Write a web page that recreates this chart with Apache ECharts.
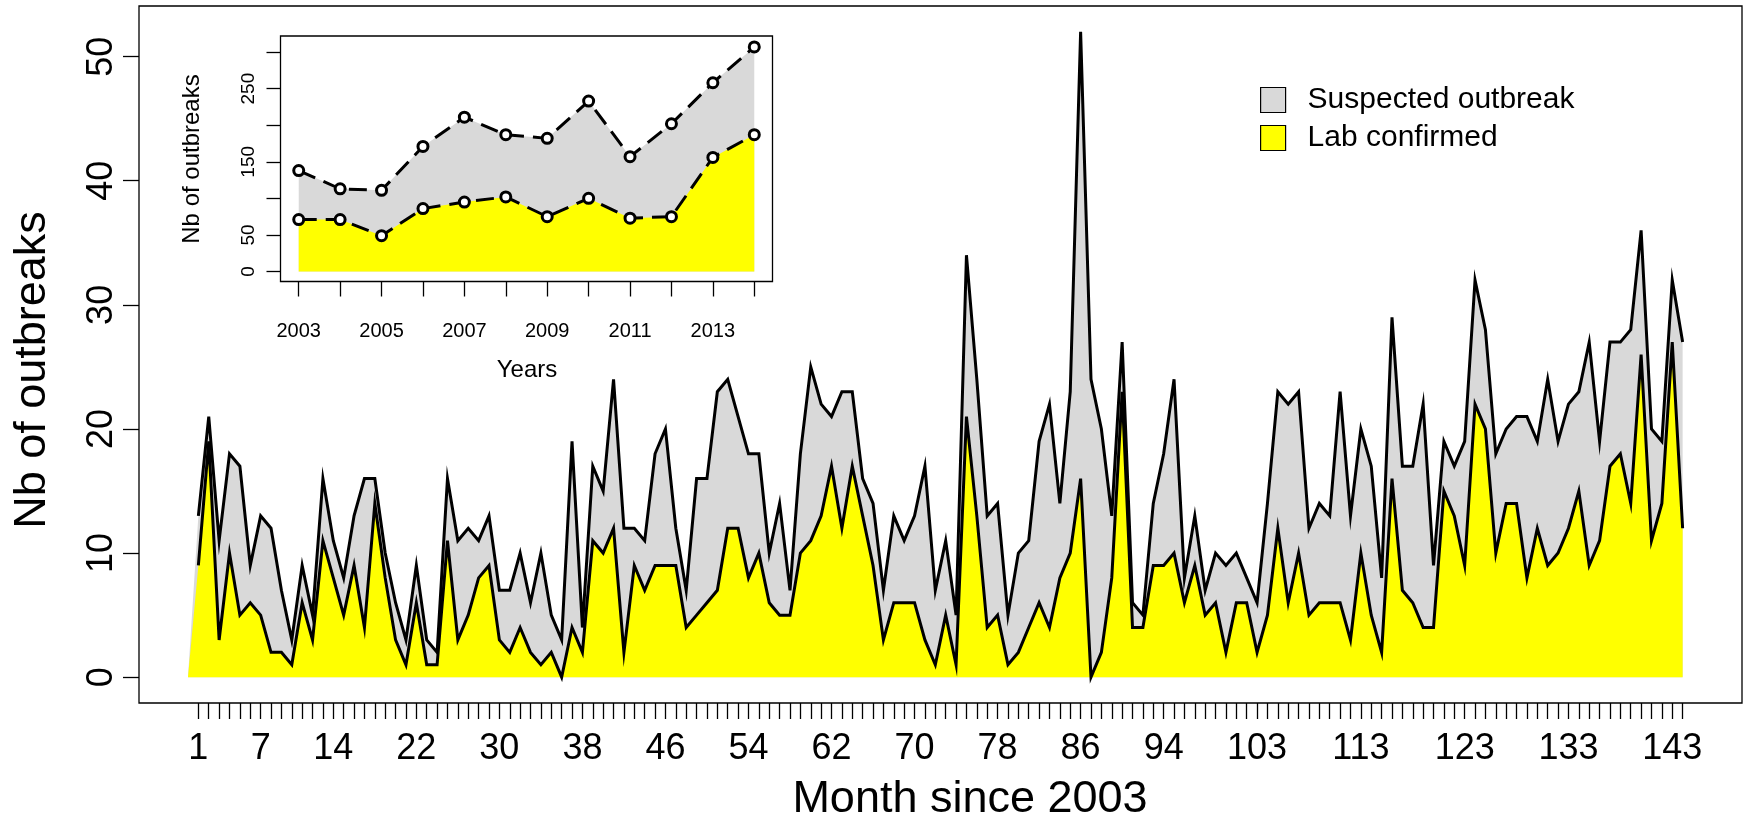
<!DOCTYPE html>
<html><head><meta charset="utf-8">
<script src="https://cdn.jsdelivr.net/npm/echarts@6/dist/echarts.min.js"></script>
<style>html,body{margin:0;padding:0;background:#fff}#c{width:1745px;height:825px}</style>
</head><body><div id="c"></div>
<script>
// ---- data ----
const suspected = [
  13,21,11,18,17,9,13,12,7,3,9,5,
  16,11,8,13,16,16,10,6,3,9,3,2,
  16,11,12,11,13,7,7,10,6,10,5,3,
  19,4,17,15,24,12,12,11,18,20,12,7,
  16,16,23,24,21,18,18,10,14,7,18,25,
  22,21,23,23,16,14,7,13,11,13,17,7,
  11,5,34,24,13,14,5,10,11,19,22,14,
  23,52,24,20,13,27,6,5,14,18,24,8,
  13,7,10,9,10,8,6,14,23,22,23,12,
  14,13,23,13,20,17,8,29,17,17,22,9,
  19,17,19,32,28,18,20,21,21,19,24,19,
  22,23,27,19,27,27,28,36,20,19,32,27
];
const confirmed = [
  9,19,3,10,5,6,5,2,2,1,6,3,
  11,8,5,9,4,14,8,3,1,6,1,1,
  11,3,5,8,9,3,2,4,2,1,2,0,
  4,2,11,10,12,2,9,7,9,9,9,4,
  5,6,7,12,12,8,10,6,5,5,10,11,
  13,17,12,17,13,9,3,6,6,6,3,1,
  5,1,21,13,4,5,1,2,4,6,4,8,
  10,16,0,2,8,23,4,4,9,9,10,6,
  9,5,6,2,6,6,2,5,12,6,10,5,
  6,6,6,3,10,5,2,16,7,6,4,4,
  15,13,9,22,20,10,14,14,8,12,9,10,
  12,15,9,11,17,18,14,26,11,14,27,12
];
const xTickLabels = [1,7,14,22,30,38,46,54,62,70,78,86,94,103,113,123,133,143];
const yTickLabels = [0,10,20,30,40,50];

const years = [2003,2004,2005,2006,2007,2008,2009,2010,2011,2012,2013,2014];
const yearSuspected = [138,113,111,171,211,187,182,233,157,202,258,307];
const yearConfirmed = [71,71,49,86,95,102,75,100,73,75,156,187];
const insetXLabels = [2003,2005,2007,2009,2011,2013];
const insetYTicks = [0,50,100,150,200,250,300];
const insetYLabels = [0,50,150,250];

// ---- build ----
const months = suspected.map((_, i) => i + 1);
const nM = months.length;
const poly = vals => [[0, 0]].concat(vals.map((v, i) => [months[i], v])).concat([[nM, 0]]);
const pts = vals => vals.map((v, i) => [months[i], v]);
const ypts = vals => vals.map((v, i) => [years[i], v]);
const FONT = '"Liberation Sans", Arial, Helvetica, sans-serif';
const fmt = v => String(v);

const chart = echarts.init(document.getElementById('c'), null, {renderer: 'canvas'});
chart.setOption({
  backgroundColor: '#fff',
  animation: false,
  textStyle: {fontFamily: FONT},
  grid: [
    {left: 139, top: 6, width: 1603, height: 697, show: true, borderColor: '#000', borderWidth: 1.3, backgroundColor: 'transparent'},
    {left: 280.5, top: 36, width: 492, height: 245.5, show: true, borderColor: '#000', borderWidth: 1.3, backgroundColor: 'transparent'}
  ],
  xAxis: [
    {gridIndex: 0, type: 'value', min: -4.72, max: 149.72,
     axisLine: {show: false, onZero: false},
     axisTick: {show: true, length: 16, customValues: months, lineStyle: {color: '#000', width: 1.3}},
     axisLabel: {customValues: xTickLabels, formatter: fmt, fontSize: 36, color: '#000', margin: 28, fontFamily: FONT},
     splitLine: {show: false}},
    {gridIndex: 1, type: 'value', min: 2002.56, max: 2014.44,
     axisLine: {show: false, onZero: false},
     axisTick: {show: true, length: 15, customValues: years, lineStyle: {color: '#000', width: 1.3}},
     axisLabel: {customValues: insetXLabels, formatter: fmt, fontSize: 20, color: '#000', margin: 40, fontFamily: FONT},
     splitLine: {show: false}}
  ],
  yAxis: [
    {gridIndex: 0, type: 'value', min: -2.08, max: 54.08,
     axisLine: {show: false, onZero: false},
     axisTick: {show: true, length: 16, customValues: yTickLabels, lineStyle: {color: '#000', width: 1.3}},
     axisLabel: {customValues: yTickLabels, formatter: fmt, rotate: 90, fontSize: 36, color: '#000', margin: 19, fontFamily: FONT},
     splitLine: {show: false}},
    {gridIndex: 1, type: 'value', min: -13.6, max: 321.9,
     axisLine: {show: false, onZero: false},
     axisTick: {show: true, length: 14, customValues: insetYTicks, lineStyle: {color: '#000', width: 1.3}},
     axisLabel: {customValues: insetYLabels, formatter: fmt, rotate: 90, fontSize: 19, color: '#000', margin: 22, fontFamily: FONT},
     splitLine: {show: false}}
  ],
  legend: {
    data: ['Suspected outbreak', 'Lab confirmed'],
    orient: 'vertical', left: 1255, top: 80,
    itemWidth: 25, itemHeight: 25, itemGap: 8, icon: 'rect',
    itemStyle: {borderColor: '#000', borderWidth: 1.2},
    textStyle: {fontSize: 30, color: '#000', fontFamily: FONT, lineHeight: 30, padding: [0, 0, 0, 17]}
  },
  series: [
    {name: 'Suspected outbreak', type: 'line', xAxisIndex: 0, yAxisIndex: 0, data: poly(suspected),
     symbol: 'none', color: '#d9d9d9', itemStyle: {color: '#d9d9d9'}, lineStyle: {width: 0},
     areaStyle: {color: '#d9d9d9', opacity: 1}, silent: true, z: 1},
    {name: 'Lab confirmed', type: 'line', xAxisIndex: 0, yAxisIndex: 0, data: poly(confirmed),
     symbol: 'none', color: '#ffff00', itemStyle: {color: '#ffff00'}, lineStyle: {width: 0},
     areaStyle: {color: '#ffff00', opacity: 1}, silent: true, z: 2},
    {type: 'line', xAxisIndex: 0, yAxisIndex: 0, data: pts(suspected), symbol: 'none',
     lineStyle: {color: '#000', width: 3, join: 'miter'}, silent: true, z: 3},
    {type: 'line', xAxisIndex: 0, yAxisIndex: 0, data: pts(confirmed), symbol: 'none',
     lineStyle: {color: '#000', width: 3, join: 'miter'}, silent: true, z: 4},
    {type: 'line', xAxisIndex: 1, yAxisIndex: 1, data: ypts(yearSuspected), symbol: 'none',
     lineStyle: {width: 0}, areaStyle: {color: '#d9d9d9', opacity: 1}, silent: true, z: 1},
    {type: 'line', xAxisIndex: 1, yAxisIndex: 1, data: ypts(yearConfirmed), symbol: 'none',
     lineStyle: {width: 0}, areaStyle: {color: '#ffff00', opacity: 1}, silent: true, z: 2},
    {type: 'line', xAxisIndex: 1, yAxisIndex: 1, data: ypts(yearSuspected), symbol: 'circle', symbolSize: 10,
     showAllSymbol: true,
     itemStyle: {color: '#fff', borderColor: '#000', borderWidth: 3},
     lineStyle: {color: '#000', width: 3, type: [18, 9]}, silent: true, z: 3},
    {type: 'line', xAxisIndex: 1, yAxisIndex: 1, data: ypts(yearConfirmed), symbol: 'circle', symbolSize: 10,
     showAllSymbol: true,
     itemStyle: {color: '#fff', borderColor: '#000', borderWidth: 3},
     lineStyle: {color: '#000', width: 3, type: [18, 9]}, silent: true, z: 4}
  ],
  graphic: [
    {type: 'text', x: 33, y: 370, rotation: Math.PI / 2,
     style: {text: 'Nb of outbreaks', fontSize: 45, fontFamily: FONT, fill: '#000', align: 'center', verticalAlign: 'middle', textAlign: 'center', textVerticalAlign: 'middle'}},
    {type: 'text', x: 970, y: 800,
     style: {text: 'Month since 2003', fontSize: 45, fontFamily: FONT, fill: '#000', align: 'center', verticalAlign: 'middle', textAlign: 'center', textVerticalAlign: 'middle'}},
    {type: 'text', x: 192, y: 159, rotation: Math.PI / 2,
     style: {text: 'Nb of outbreaks', fontSize: 24, fontFamily: FONT, fill: '#000', align: 'center', verticalAlign: 'middle', textAlign: 'center', textVerticalAlign: 'middle'}},
    {type: 'text', x: 527, y: 370,
     style: {text: 'Years', fontSize: 24, fontFamily: FONT, fill: '#000', align: 'center', verticalAlign: 'middle', textAlign: 'center', textVerticalAlign: 'middle'}}
  ]
});
</script></body></html>
